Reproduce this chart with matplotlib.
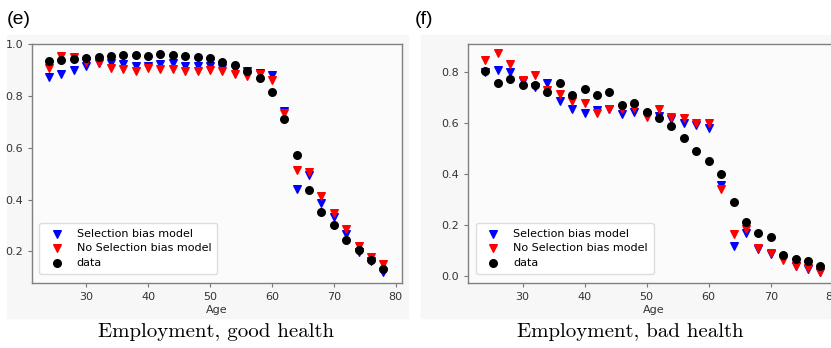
import numpy as np
import matplotlib
matplotlib.use('Agg')
import matplotlib.pyplot as plt
from matplotlib.patches import Rectangle

# ages on x axis (both panels)
ages = np.arange(24, 80, 2)

# (e) Employment, good health
good_selection = [0.874, 0.883, 0.900, 0.917, 0.926, 0.926, 0.923, 0.917, 0.915, 0.923,
                  0.925, 0.917, 0.917, 0.915, 0.909, 0.905, 0.895, 0.887, 0.881, 0.740,
                  0.441, 0.496, 0.387, 0.332, 0.267, 0.197, 0.164, 0.120]
good_noselection = [0.909, 0.955, 0.951, 0.932, 0.926, 0.906, 0.902, 0.894, 0.906, 0.902,
                    0.902, 0.894, 0.897, 0.898, 0.894, 0.885, 0.877, 0.885, 0.862, 0.733,
                    0.515, 0.506, 0.413, 0.349, 0.288, 0.220, 0.178, 0.150]
good_data = [0.936, 0.938, 0.944, 0.947, 0.949, 0.954, 0.958, 0.958, 0.955, 0.962,
             0.958, 0.954, 0.950, 0.946, 0.930, 0.919, 0.895, 0.868, 0.814, 0.711,
             0.572, 0.438, 0.350, 0.303, 0.243, 0.205, 0.168, 0.131]

# (f) Employment, bad health
bad_selection = [0.803, 0.809, 0.802, 0.767, 0.741, 0.759, 0.689, 0.657, 0.642, 0.652,
                 0.655, 0.636, 0.646, 0.633, 0.629, 0.616, 0.602, 0.593, 0.580, 0.358,
                 0.119, 0.169, 0.106, 0.087, 0.071, 0.040, 0.027, 0.018]
bad_noselection = [0.848, 0.874, 0.831, 0.770, 0.789, 0.731, 0.714, 0.687, 0.681, 0.642,
                   0.655, 0.658, 0.659, 0.624, 0.655, 0.624, 0.620, 0.602, 0.600, 0.341,
                   0.166, 0.184, 0.110, 0.093, 0.064, 0.040, 0.031, 0.018]
bad_data = [0.806, 0.759, 0.773, 0.750, 0.750, 0.724, 0.757, 0.711, 0.735, 0.711,
            0.722, 0.672, 0.678, 0.643, 0.622, 0.591, 0.544, 0.491, 0.453, 0.401,
            0.291, 0.213, 0.171, 0.153, 0.082, 0.069, 0.059, 0.040]

panel_letters = ['(e)', '(f)']
captions = ['Employment, good health', 'Employment, bad health']
legend_labels = ['Selection bias model', 'No Selection bias model', 'data']

W, H = 831, 348
fig = plt.figure(figsize=(W / 100, H / 100), dpi=100)
fig.patch.set_facecolor('white')

def px(x0, y0, x1, y1):
    '''pixel box (top-left origin) -> figure fraction rect'''
    return [x0 / W, 1 - y1 / H, (x1 - x0) / W, (y1 - y0) / H]

# light grey backgrounds of the pasted panels, kept behind the axes
for x0, x1 in [(7, 408), (421, 831)]:
    fig.add_artist(Rectangle((x0 / W, 1 - 318 / H), (x1 - x0) / W, 283 / H,
                             transform=fig.transFigure, color='#f7f7f7', zorder=-5))

ax_left = fig.add_axes(px(32, 44, 402, 283))
ax_right = fig.add_axes(px(468.3, 44, 839, 283))

panels = [
    (ax_left, good_selection, good_noselection, good_data, (0.078, 1.0), [0.2, 0.4, 0.6, 0.8, 1.0]),
    (ax_right, bad_selection, bad_noselection, bad_data, (-0.026, 0.911), [0.0, 0.2, 0.4, 0.6, 0.8]),
]

for ax, sel, nosel, dat, ylim, yticks in panels:
    ax.set_zorder(1)
    ax.set_facecolor('#fbfbfb')
    ax.scatter(ages, sel, marker='v', color='blue', s=30, label=legend_labels[0], zorder=2)
    ax.scatter(ages, nosel, marker='v', color='red', s=30, label=legend_labels[1], zorder=3)
    ax.scatter(ages, dat, marker='o', color='black', s=30, label=legend_labels[2], zorder=4)
    ax.set_xlim(21.25, 81.0)
    ax.set_ylim(*ylim)
    ax.set_xticks([30, 40, 50, 60, 70, 80])
    ax.set_yticks(yticks)
    ax.yaxis.set_major_formatter(matplotlib.ticker.FormatStrFormatter('%.1f'))
    ax.tick_params(labelsize=8, labelcolor='#333333', length=3, width=0.8, color='#777777')
    for sp in ax.spines.values():
        sp.set_color('#808080')
        sp.set_linewidth(1.0)
    ax.set_xlabel('Age', fontsize=8, color='#333333', labelpad=2)
    ax.legend(loc='lower left', fontsize=8, frameon=True, framealpha=1,
              edgecolor='#dddddd', borderpad=0.55, handletextpad=0.8,
              labelspacing=0.4, bbox_to_anchor=(0.005, 0.015))

# panel letters
fig.text(7 / W, 1 - 20 / H, panel_letters[0], fontsize=14, family='Liberation Sans', va='center')
fig.text(415 / W, 1 - 20 / H, panel_letters[1], fontsize=14, family='Liberation Sans', va='center')

# captions in a Computer Modern style serif
fig.text(216 / W, 1 - 332 / H, captions[0], fontsize=15, family='cmr10', ha='center', va='center')
fig.text(630 / W, 1 - 332 / H, captions[1], fontsize=15, family='cmr10', ha='center', va='center')

fig.savefig('out.png', dpi=100)
